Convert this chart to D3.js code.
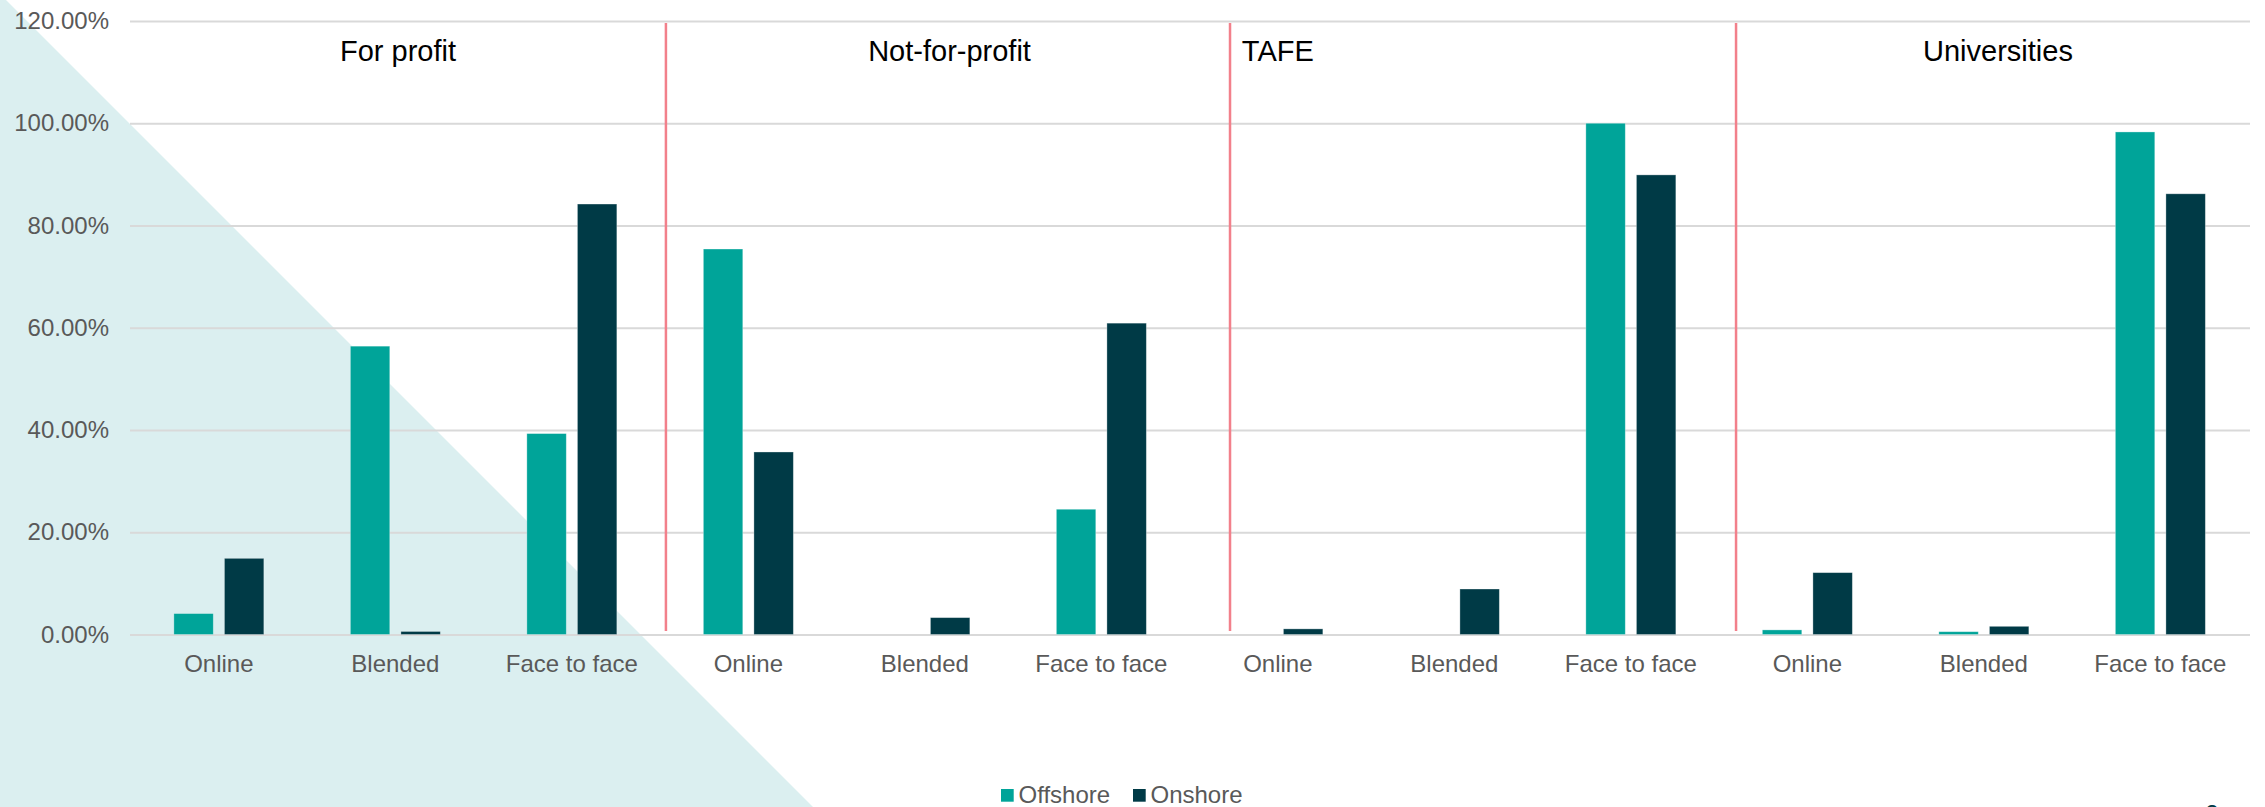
<!DOCTYPE html>
<html>
<head>
<meta charset="utf-8">
<script src="https://cdn.jsdelivr.net/npm/d3@7"></script>
<style>
  html, body { margin: 0; padding: 0; background: #fff; }
  svg { display: block; font-family: "Liberation Sans", Arial, sans-serif; }
</style>
</head>
<body>
<script>
// categories along the x axis (3 delivery modes per provider type)
var categories = ["Online", "Blended", "Face to face",
                  "Online", "Blended", "Face to face",
                  "Online", "Blended", "Face to face",
                  "Online", "Blended", "Face to face"];
var groups = ["For profit", "Not-for-profit", "TAFE", "Universities"];
var series = ["Offshore", "Onshore"];

// share of students, %
var offshore = [4.1, 56.4, 39.3,  75.4, 0, 24.5,  0, 0, 100,    0.9, 0.55, 98.3];
var onshore  = [14.9, 0.6, 84.2,  35.7, 3.3, 60.9,  1.1, 8.9, 89.9,  12.1, 1.6, 86.2];

var yTicks = [0, 20, 40, 60, 80, 100, 120];

// where the group titles and divider lines sit, in category slots
var titleSlots = [1.515, 4.64, 6.5, 10.58];
var dividerSlots = [3.033, 6.229, 9.096];

var W = 2265, H = 807;
var colors = { Offshore: "#00a499", Onshore: "#003a46" };

var svg = d3.select("body").append("svg")
  .attr("width", W)
  .attr("height", H);

// pale background wedge
svg.append("polygon")
  .attr("points", [[0, 0], [6, 0], [813, H], [0, H]].join(" "))
  .attr("fill", "#dbeff0");

var x = d3.scaleBand()
  .domain(d3.range(categories.length))
  .range([130.6, 2248.6])
  .padding(0);

var x1 = d3.scaleBand()
  .domain(series)
  .range([x.bandwidth() / 2 - 45, x.bandwidth() / 2 + 45])
  .paddingInner(0.22);

var y = d3.scaleLinear()
  .domain([0, 120])
  .range([634.5, 21]);

// gridlines + y labels
var yAxis = svg.append("g")
  .attr("transform", "translate(130,0)")
  .call(d3.axisLeft(y)
    .tickValues(yTicks)
    .tickSize(-(2250 - 130))
    .tickPadding(21)
    .tickFormat(function(d) { return d.toFixed(2) + "%"; }));
yAxis.select(".domain").remove();
yAxis.selectAll("line")
  .attr("stroke", "#d9d9d9")
  .attr("stroke-width", 2);
yAxis.selectAll("text")
  .attr("fill", "#595959")
  .style("font-size", "24px")
  .style("font-family", "'Liberation Sans', Arial, sans-serif");

// bars
var rows = categories.map(function(c, i) {
  return { i: i, values: [
    { key: "Offshore", value: offshore[i] },
    { key: "Onshore", value: onshore[i] }
  ]};
});

var cat = svg.append("g").selectAll("g")
  .data(rows)
  .enter()
  .append("g")
  .attr("transform", function(d) { return "translate(" + x(d.i) + ",0)"; });

cat.selectAll("rect")
  .data(function(d) { return d.values.filter(function(v) { return v.value > 0; }); })
  .enter()
  .append("rect")
  .attr("x", function(d) { return x1(d.key); })
  .attr("width", x1.bandwidth())
  .attr("y", function(d) { return y(d.value); })
  .attr("height", function(d) { return y(0) - y(d.value); })
  .attr("fill", function(d) { return colors[d.key]; })
  .attr("stroke", "#ffffff")
  .attr("stroke-opacity", 0.4)
  .attr("stroke-width", 0.8);

// category labels
var xAxis = svg.append("g")
  .attr("transform", "translate(0," + y(0) + ")")
  .call(d3.axisBottom(x)
    .tickSize(0)
    .tickPadding(20)
    .tickFormat(function(i) { return categories[i]; }));
xAxis.select(".domain").remove();
xAxis.selectAll("text")
  .attr("fill", "#595959")
  .style("font-size", "24px")
  .style("font-family", "'Liberation Sans', Arial, sans-serif");

// divider lines between provider types
svg.append("g").selectAll("line")
  .data(dividerSlots)
  .enter()
  .append("line")
  .attr("x1", function(d) { return x(0) + d * x.step(); })
  .attr("x2", function(d) { return x(0) + d * x.step(); })
  .attr("y1", 23)
  .attr("y2", 631)
  .attr("stroke", "#f2808b")
  .attr("stroke-width", 2.5);

// group titles
svg.append("g").selectAll("text")
  .data(groups)
  .enter()
  .append("text")
  .attr("x", function(d, i) { return x(0) + titleSlots[i] * x.step(); })
  .attr("y", 61)
  .attr("text-anchor", "middle")
  .attr("fill", "#000000")
  .style("font-size", "29px")
  .text(function(d) { return d; });

// legend
var legendX = [1001, 1133];
var legend = svg.append("g").selectAll("g")
  .data(series)
  .enter()
  .append("g")
  .attr("transform", function(d, i) { return "translate(" + legendX[i] + ",0)"; });
legend.append("rect")
  .attr("x", 0)
  .attr("y", 789)
  .attr("width", 12.7)
  .attr("height", 12.7)
  .attr("fill", function(d) { return colors[d]; });
legend.append("text")
  .attr("x", 17.5)
  .attr("y", 803)
  .attr("fill", "#595959")
  .style("font-size", "24px")
  .text(function(d) { return d; });

// page number, mostly below the frame
svg.append("text")
  .attr("x", 2212)
  .attr("y", 822)
  .attr("text-anchor", "middle")
  .attr("fill", "#003a46")
  .style("font-size", "24px")
  .text("2");
</script>
</body>
</html>
